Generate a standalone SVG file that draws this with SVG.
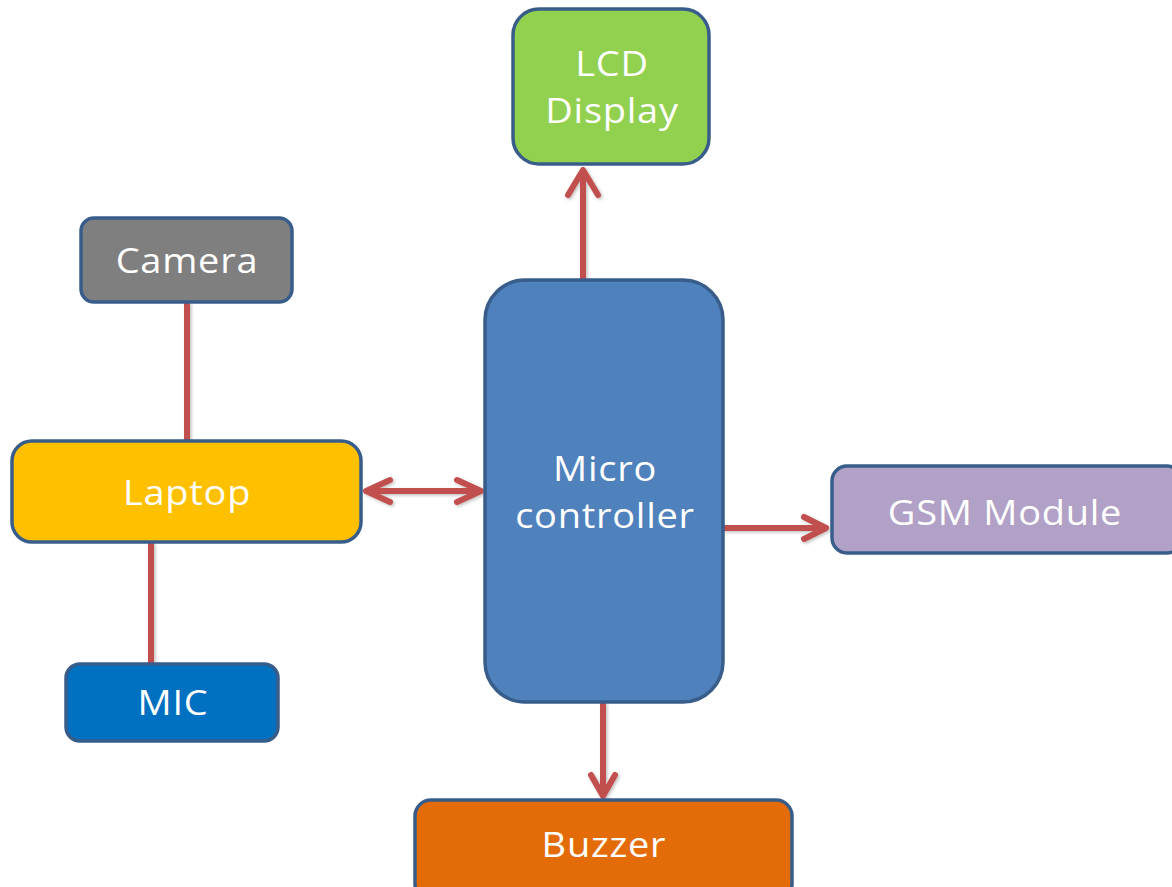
<svg xmlns="http://www.w3.org/2000/svg" width="1172" height="887" viewBox="0 0 1172 887">
  <style>
    .box { stroke: #385D8A; stroke-width: 3.5; }
    .lbl { font-family: "Open Sans", "Liberation Sans", sans-serif; font-size: 35.5px; letter-spacing: 0.7px; fill: #FFFFFF; text-anchor: middle; }
    .wire { stroke: #C0504D; stroke-width: 6; fill: none; }
    .head { stroke: #C0504D; stroke-width: 6; fill: none; stroke-linecap: round; stroke-linejoin: round; }
  </style>
  <defs>
    <filter id="soft" x="-10%" y="-10%" width="130%" height="130%">
      <feDropShadow dx="1.5" dy="1.5" stdDeviation="1.5" flood-color="#000000" flood-opacity="0.25"/>
    </filter>
  </defs>
  <rect width="1172" height="887" fill="#FFFFFF"/>

  <!-- connectors -->
  <g id="connectors" filter="url(#soft)">
    <!-- controller to LCD -->
    <line class="wire" x1="583" y1="280" x2="583" y2="170"/>
    <polyline class="head" points="568,195 583,170 598,195"/>
    <!-- laptop <-> controller -->
    <line class="wire" x1="366" y1="491" x2="481" y2="491"/>
    <polyline class="head" points="390,480 366,491 390,502"/>
    <polyline class="head" points="457,480 481,491 457,502"/>
    <!-- controller to GSM -->
    <line class="wire" x1="723" y1="528" x2="826" y2="528"/>
    <polyline class="head" points="804,517 826,528 804,539"/>
    <!-- controller to buzzer -->
    <line class="wire" x1="603" y1="702" x2="603" y2="796"/>
    <polyline class="head" points="591,775 603,796 615,775"/>
    <!-- camera / laptop -->
    <line class="wire" x1="187" y1="302" x2="187" y2="441"/>
    <!-- laptop / mic -->
    <line class="wire" x1="151" y1="542" x2="151" y2="664"/>
  </g>

  <!-- labels are widened slightly: translate to the anchor, then stretch horizontally -->
  <g id="lcd">
    <rect class="box" x="513" y="9" width="196" height="155" rx="26" fill="#92D050"/>
    <text class="lbl" transform="translate(612,76) scale(1.07,1)">LCD</text>
    <text class="lbl" transform="translate(612,123) scale(1.07,1)">Display</text>
  </g>

  <g id="camera">
    <rect class="box" x="81" y="218" width="211" height="84" rx="13" fill="#7F7F7F"/>
    <text class="lbl" transform="translate(187,273) scale(1.07,1)">Camera</text>
  </g>

  <g id="laptop">
    <rect class="box" x="12" y="441" width="349" height="101" rx="20" fill="#FFC000"/>
    <text class="lbl" transform="translate(187,505) scale(1.07,1)">Laptop</text>
  </g>

  <g id="mic">
    <rect class="box" x="66" y="664" width="212" height="77" rx="14" fill="#0070C0"/>
    <text class="lbl" transform="translate(173,715) scale(1.07,1)">MIC</text>
  </g>

  <g id="microcontroller">
    <rect class="box" x="485" y="280" width="238" height="422" rx="40" fill="#4F81BD"/>
    <text class="lbl" transform="translate(605,481) scale(1.07,1)">Micro</text>
    <text class="lbl" transform="translate(605,528) scale(1.07,1)">controller</text>
  </g>

  <g id="gsm">
    <rect class="box" x="832" y="466" width="350" height="87" rx="15" fill="#B2A1C7"/>
    <text class="lbl" transform="translate(1005,525) scale(1.07,1)">GSM Module</text>
  </g>

  <g id="buzzer">
    <rect class="box" x="415" y="800" width="377" height="100" rx="16" fill="#E36C09"/>
    <text class="lbl" transform="translate(604,857) scale(1.07,1)">Buzzer</text>
  </g>
</svg>
